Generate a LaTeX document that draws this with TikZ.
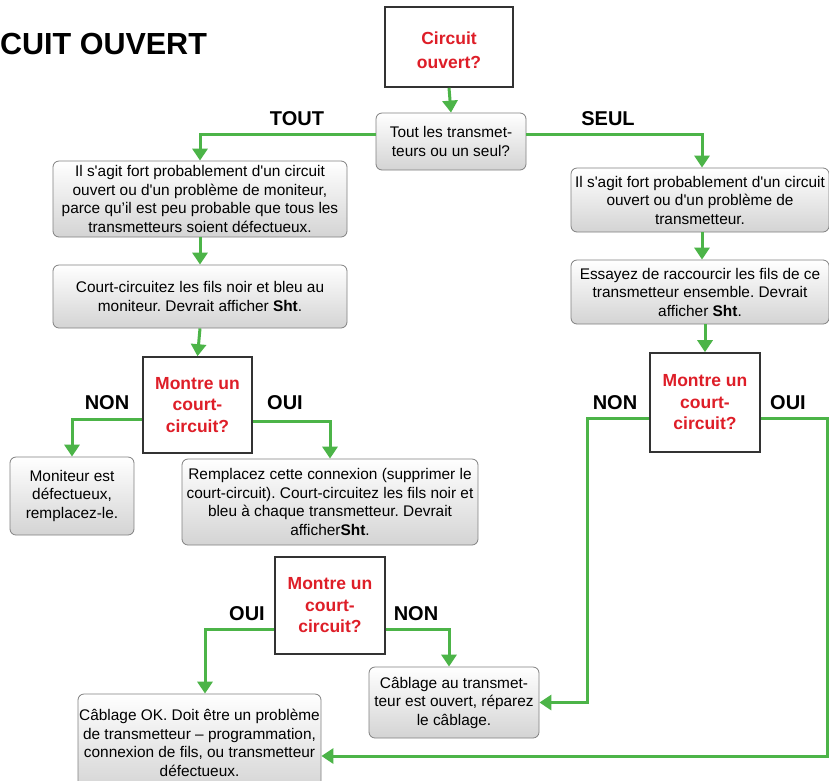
\documentclass[tikz,border=0pt]{standalone}
\usepackage{fontspec}
\setmainfont{Liberation Sans}[Ligatures=TeXOff]
\usetikzlibrary{arrows.meta}
\definecolor{flowgreen}{RGB}{76,180,72}
\definecolor{flowred}{RGB}{222,30,40}
\frenchspacing
\begin{document}
\begin{tikzpicture}[x=1pt,y=-1pt,
  box/.style={draw=black!50, line width=0.8pt, rounded corners=6pt, top color=white, bottom color=black!17,
    font=\fontsize{15.4}{18.5}\selectfont, align=center, inner sep=0pt},
  dec/.style={draw=black!80, line width=1.6pt, fill=white, font=\fontsize{17.5}{21.5}\selectfont\bfseries,
    text=flowred, align=center, inner sep=0pt},
  lab/.style={font=\fontsize{20}{22}\selectfont\bfseries, inner sep=0pt},
  arr/.style={draw=flowgreen, line width=3pt, -{Triangle[width=15pt,length=12pt]}}
]
\clip (0,0) rectangle (829,780);
\fill[white] (0,0) rectangle (829,780);

\node[anchor=west, font=\fontsize{30.5}{32}\selectfont\bfseries, inner sep=0pt] (title) at (0,44) {CUIT OUVERT};

\node[dec, minimum width=128pt, minimum height=80pt, font=\fontsize{17.5}{24}\selectfont\bfseries] (start) at (449,47) {\rule{0pt}{19pt}Circuit\\ouvert?};
\node[box, minimum width=150pt, minimum height=57pt] (q1) at (451,141.5) {Tout les transmet-\\teurs ou un seul?};

\node[box, minimum width=294pt, minimum height=76pt] (L1) at (200,199) {Il s'agit fort probablement d'un circuit\\ouvert ou d'un problème de moniteur,\\parce qu’il est peu probable que tous les\\transmetteurs soient défectueux.};
\node[box, minimum width=294pt, minimum height=63pt] (L2) at (200,296.5) {Court-circuitez les fils noir et bleu au\\moniteur. Devrait afficher \textbf{Sht}.};
\node[dec, minimum width=109pt, minimum height=96pt] (D1) at (197.5,405) {Montre un\\court-\\circuit?};
\node[box, minimum width=124pt, minimum height=78pt] (LL) at (72,496) {Moniteur est\\défectueux,\\remplacez-le.};
\node[box, minimum width=296pt, minimum height=86pt] (LR) at (330,502) {Remplacez cette connexion (supprimer le\\court-circuit). Court-circuitez les fils noir et\\bleu à chaque transmetteur. Devrait\\afficher\textbf{Sht}.};

\node[box, minimum width=258pt, minimum height=64pt] (R1) at (700,200) {Il s'agit fort probablement d'un circuit\\ouvert ou d'un problème de\\transmetteur.};
\node[box, minimum width=258pt, minimum height=64pt] (R2) at (700,292) {Essayez de raccourcir les fils de ce\\transmetteur ensemble. Devrait\\afficher \textbf{Sht}.};
\node[dec, minimum width=110pt, minimum height=99pt] (D2) at (705,402.5) {Montre un\\court-\\circuit?};

\node[dec, minimum width=110pt, minimum height=97pt] (D3) at (330,605.5) {Montre un\\court-\\circuit?};
\node[box, minimum width=170pt, minimum height=71pt] (B1) at (454,702.5) {Câblage au transmet-\\teur est ouvert, réparez\\le câblage.};
\node[box, minimum width=243pt, minimum height=98pt] (B2) at (199.5,743) {Câblage OK. Doit être un problème\\de transmetteur – programmation,\\connexion de fils, ou transmetteur\\défectueux.};

\node[lab] (tout) at (297,119) {TOUT};
\node[lab] (seul) at (608,119) {SEUL};
\node[lab] (non1) at (107,403) {NON};
\node[lab] (oui1) at (285,403) {OUI};
\node[lab] (non2) at (615,403) {NON};
\node[lab] (oui2) at (788,403) {OUI};
\node[lab] (oui3) at (247,614) {OUI};
\node[lab] (non3) at (416,614) {NON};

\coordinate (c2w) at (587,418);
\coordinate (c2e) at (827,418);

\draw[arr] (start.south) -- (q1.north);
\draw[arr] ([yshift=7pt]q1.west) -| (L1.north);
\draw[arr] ([yshift=7pt]q1.east) -| ([xshift=2pt]R1.north);
\draw[arr] (L1.south) -- (L2.north);
\draw[arr] (L2.south) -- (D1.north);
\draw[arr] ([yshift=-14pt]D1.west) -| (LL.north);
\draw[arr] ([yshift=-16pt]D1.east) -| (LR.north);
\draw[arr] ([xshift=2pt]R1.south) -- ([xshift=2pt]R2.north);
\draw[arr] ([xshift=5pt]R2.south) -- (D2.north);
\draw[arr] ([yshift=-15.5pt]D2.west) -- (c2w) |- (B1.east);
\draw[arr] ([yshift=-15.5pt]D2.east) -- (c2e) |- ([yshift=-13pt]B2.east);
\draw[arr] ([yshift=-23.5pt]D3.west) -| ([xshift=5.5pt]B2.north);
\draw[arr] ([yshift=-23.5pt]D3.east) -| ([xshift=-5pt]B1.north);
\end{tikzpicture}
\end{document}
